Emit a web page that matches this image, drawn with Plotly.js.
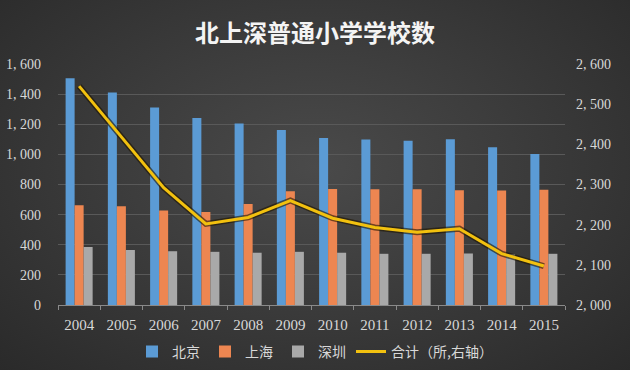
<!DOCTYPE html>
<html>
<head>
<meta charset="utf-8">
<script src="https://cdn.plot.ly/plotly-3.0.1.min.js"></script>
<style>
html,body{margin:0;padding:0;}
body{width:630px;height:370px;background:radial-gradient(ellipse at 50% 45%, #4a4a4a 0%, #3c3c3c 45%, #2a2a2a 100%);}
#chart{width:630px;height:370px;}
</style>
</head>
<body>
<div id="chart"></div>
<script>
const years = ['2004','2005','2006','2007','2008','2009','2010','2011','2012','2013','2014','2015'];
const beijing = [1505, 1410, 1312, 1242, 1205, 1162, 1108, 1098, 1090, 1100, 1048, 1002];
const shanghai = [662, 655, 628, 618, 670, 755, 770, 768, 768, 762, 760, 765];
const shenzhen = [385, 365, 357, 353, 347, 353, 347, 340, 340, 342, 338, 340];
const total = [2545, 2418, 2292, 2202, 2218, 2260, 2216, 2193, 2181, 2190, 2128, 2097];
const leftTicks = [0, 200, 400, 600, 800, 1000, 1200, 1400, 1600];
const leftTickText = ['0', '200', '400', '600', '800', '1, 000', '1, 200', '1, 400', '1, 600'];
const rightTicks = [2000, 2100, 2200, 2300, 2400, 2500, 2600];
const rightTickText = ['2, 000', '2, 100', '2, 200', '2, 300', '2, 400', '2, 500', '2, 600'];

const tickFont = {family: 'Liberation Serif, DejaVu Serif, serif', size: 14, color: '#d8d8d8'};

const traces = [
  {type: 'bar', name: '北京', x: years, y: beijing, marker: {color: '#5b9bd5'}, hoverinfo: 'none'},
  {type: 'bar', name: '上海', x: years, y: shanghai, marker: {color: '#ed8651'}, hoverinfo: 'none'},
  {type: 'bar', name: '深圳', x: years, y: shenzhen, marker: {color: '#a9a9a9'}, hoverinfo: 'none'},
  {type: 'scatter', mode: 'lines', name: 'shadow', x: years, y: total, yaxis: 'y2', showlegend: false,
   line: {color: 'rgba(30,20,0,0.6)', width: 6}, hoverinfo: 'none'},
  {type: 'scatter', mode: 'lines', name: '合计（所,右轴）', x: years, y: total, yaxis: 'y2',
   line: {color: '#f2c10f', width: 3}, hoverinfo: 'none'}
];

const layout = {
  width: 630, height: 370,
  paper_bgcolor: 'rgba(0,0,0,0)', plot_bgcolor: 'rgba(0,0,0,0)',
  margin: {l: 58, r: 65, t: 64, b: 65},
  title: {text: '北上深普通小学学校数', x: 0.5, xanchor: 'center', y: 0.91, yanchor: 'middle', yref: 'container',
          font: {family: 'Noto Sans CJK SC, sans-serif', size: 24, weight: 'bold', color: '#f4f4f4'}},
  barmode: 'group', bargap: 0.36, bargroupgap: 0,
  showlegend: true,
  legend: {orientation: 'h', x: 0.5, xanchor: 'center', xref: 'container', y: 0.049, yanchor: 'middle', yref: 'container',
           font: {family: 'Noto Sans CJK SC, sans-serif', size: 14, color: '#d8d8d8'},
           bgcolor: 'rgba(0,0,0,0)', itemwidth: 30, tracegroupgap: 0},
  xaxis: {type: 'category', tickfont: {family: 'Liberation Serif, DejaVu Serif, serif', size: 15, color: '#d8d8d8'},
          showgrid: false, showline: true, linecolor: '#8a8a8a', linewidth: 1,
          ticks: 'outside', tickson: 'boundaries', ticklen: 4, tickcolor: '#8a8a8a', zeroline: false,
          ticklabelstandoff: 6},
  yaxis: {range: [0, 1600], tickvals: leftTicks, ticktext: leftTickText, tickfont: tickFont,
          showgrid: true, gridcolor: '#595959', gridwidth: 1, zeroline: false, showline: false, ticks: '',
          ticklabelstandoff: 16},
  yaxis2: {range: [2000, 2600], tickvals: rightTicks, ticktext: rightTickText, tickfont: tickFont,
           overlaying: 'y', side: 'right', showgrid: false, zeroline: false, showline: false, ticks: '',
           ticklabelstandoff: 10},
  font: {family: 'Noto Sans CJK SC, sans-serif'}
};

Plotly.newPlot('chart', traces, layout, {displayModeBar: false, staticPlot: true});
</script>
</body>
</html>
